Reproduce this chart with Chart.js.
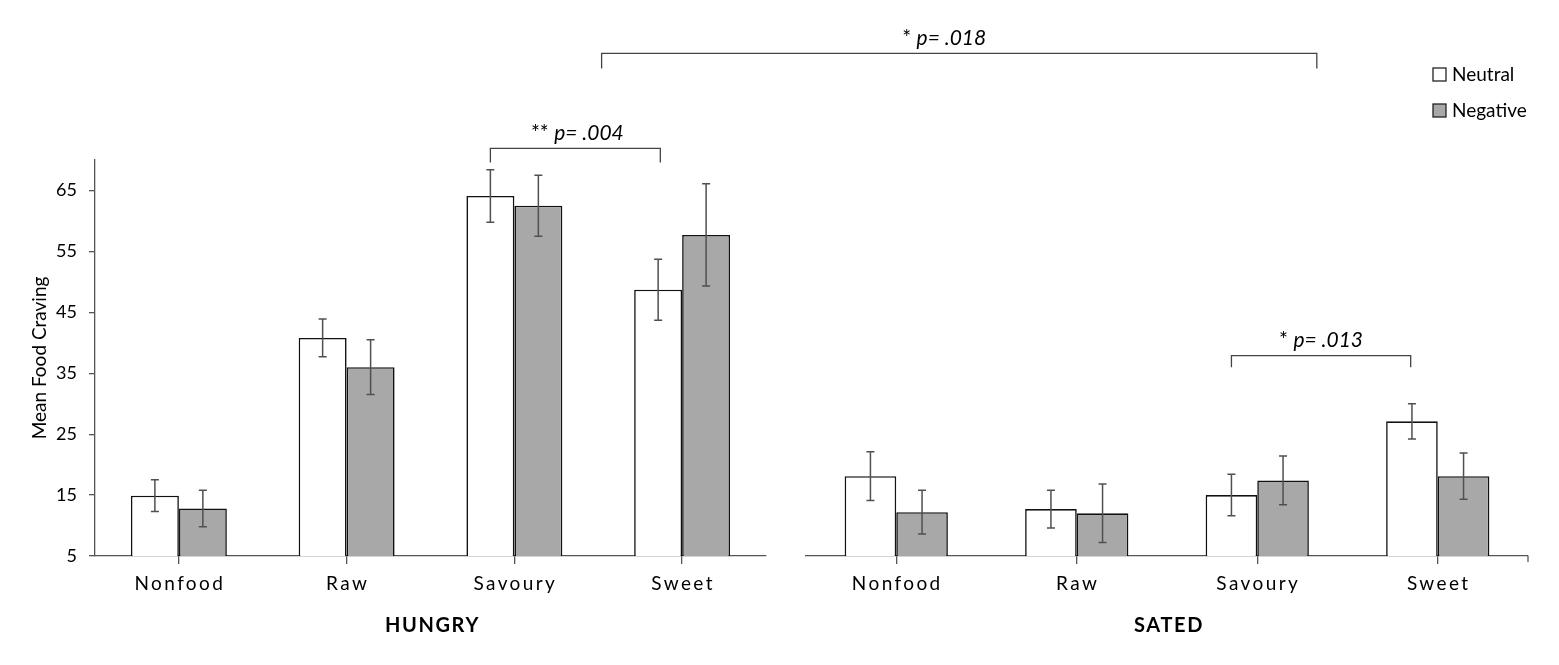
<!DOCTYPE html>
<html><head><meta charset="utf-8">
<script src="https://cdn.jsdelivr.net/npm/chart.js@4.4.0/dist/chart.umd.min.js"></script>
<style>
html,body{margin:0;padding:0;background:#fff;}
#wrap{position:relative;width:1559px;height:665px;}
canvas{position:absolute;left:0;top:0;}
</style></head><body>
<div id="wrap"><canvas id="c1" width="1559" height="665"></canvas><canvas id="c2" width="1559" height="665"></canvas></div>
<script>
// ---------- data ----------
const categories = ['Nonfood', 'Raw', 'Savoury', 'Sweet'];
const seriesNames = ['Neutral', 'Negative'];
const panelTitles = ['HUNGRY', 'SATED'];
const yTicks = [5, 15, 25, 35, 45, 55, 65];
const hungryNeutral = [14.9, 40.8, 64.1, 48.7];
const hungryNegative = [12.8, 36.0, 62.5, 57.7];
const hungryNeutralErr = [2.6, 3.1, 4.3, 5.0];
const hungryNegativeErr = [3.0, 4.5, 5.0, 8.4];
const satedNeutral = [18.1, 12.7, 15.0, 27.1];
const satedNegative = [12.2, 12.0, 17.4, 18.1];
const satedNeutralErr = [4.0, 3.1, 3.4, 2.9];
const satedNegativeErr = [3.6, 4.8, 4.0, 3.8];
const hungryNote = { text: [['** ', false], ['p= .004', true]] };
const satedNote = { text: [['* ', false], ['p= .013', true]] };
const acrossNote = { text: [['* ', false], ['p= .018', true]] };

// ---------- styling ----------
const FONT = 'Lato';
const NEUTRAL_FILL = '#ffffff';
const NEGATIVE_FILL = '#a8a8a8';
const AXIS = '#555555';
const ERR = '#505050';

// bracket placement (fractional category positions / value-axis positions)
const hungryBracket = { from: 1.857, to: 2.87, y: 71.9, drop: 69.6, labelY: 74.4 };
const satedBracket = { from: 1.857, to: 2.85, y: 37.9, drop: 36.0, labelY: 40.4 };
const acrossBracket = { from: 2.52, to: 2.33, y: 87.5, drop: 85.0, labelY: 90.0 };

function drawMixed(ctx, parts, cx, cy, size) {
  const widths = parts.map(p => { ctx.font = (p[1] ? 'italic ' : '') + size + 'px ' + FONT; return ctx.measureText(p[0]).width; });
  const total = widths.reduce((a, b) => a + b, 0);
  let x = cx - total / 2;
  ctx.textAlign = 'left'; ctx.textBaseline = 'middle'; ctx.fillStyle = '#000';
  parts.forEach((p, i) => { ctx.font = (p[1] ? 'italic ' : '') + size + 'px ' + FONT; ctx.fillText(p[0], x, cy); x += widths[i]; });
}

function drawBracket(ctx, x1, x2, y, yd1, yd2) {
  ctx.save();
  ctx.strokeStyle = '#444'; ctx.lineWidth = 1.3;
  ctx.beginPath();
  ctx.moveTo(x1, yd1); ctx.lineTo(x1, y); ctx.lineTo(x2, y); ctx.lineTo(x2, yd2);
  ctx.stroke();
  ctx.restore();
}

function makePlugin(errs, title, extra) {
  return {
    id: 'decor',
    afterDatasetsDraw(chart) {
      const ctx = chart.ctx, ys = chart.scales.y;
      ctx.save();
      ctx.strokeStyle = ERR; ctx.lineWidth = 1.5;
      chart.data.datasets.forEach((ds, i) => {
        const meta = chart.getDatasetMeta(i);
        meta.data.forEach((el, j) => {
          const v = ds.data[j], e = errs[i][j];
          const yt = ys.getPixelForValue(v + e), yb = ys.getPixelForValue(v - e);
          ctx.beginPath();
          ctx.moveTo(el.x, yt); ctx.lineTo(el.x, yb);
          ctx.moveTo(el.x - 4, yt); ctx.lineTo(el.x + 4, yt);
          ctx.moveTo(el.x - 4, yb); ctx.lineTo(el.x + 4, yb);
          ctx.stroke();
        });
      });
      ctx.restore();
    },
    afterDraw(chart) {
      const ctx = chart.ctx, xs = chart.scales.x, area = chart.chartArea;
      ctx.save();
      ctx.fillStyle = '#000';
      ctx.textAlign = 'center'; ctx.textBaseline = 'middle';
      ctx.font = '19px ' + FONT;
      ctx.letterSpacing = '2.4px';
      categories.forEach((c, i) => ctx.fillText(c, xs.getPixelForTick(i) + 1, area.bottom + 28));
      ctx.font = 'bold 20px ' + FONT;
      ctx.letterSpacing = '1.6px';
      ctx.fillText(title, (area.left + area.right) / 2 + 2, area.bottom + 70);
      ctx.letterSpacing = '0px';
      ctx.restore();
      extra(chart);
    }
  };
}

function makeConfig(neutral, negative, padLeft, padRight, showY, plugin) {
  return {
    type: 'bar',
    data: {
      labels: categories,
      datasets: [
        { label: seriesNames[0], data: neutral, backgroundColor: NEUTRAL_FILL, borderColor: '#111', borderWidth: 1.6 },
        { label: seriesNames[1], data: negative, backgroundColor: NEGATIVE_FILL, borderColor: '#111', borderWidth: 1.6 }
      ]
    },
    options: {
      responsive: false,
      animation: false,
      events: [],
      layout: { padding: { left: padLeft, right: padRight, top: 160, bottom: 0 } },
      datasets: { bar: { categoryPercentage: 0.572, barPercentage: 1.0 } },
      plugins: { legend: { display: false }, tooltip: { enabled: false } },
      scales: {
        x: {
          grid: { display: true, drawOnChartArea: false, drawTicks: true, tickLength: 8, color: AXIS, offset: false, lineWidth: 1.3 },
          border: { display: true, color: AXIS, width: 1.3 },
          ticks: { color: 'rgba(0,0,0,0)', font: { family: FONT, size: 19 }, autoSkip: false, maxRotation: 0 },
          afterFit(s) { s.height = 109; }
        },
        y: {
          display: showY,
          min: 5, max: 70,
          afterBuildTicks(s) { s.ticks = yTicks.map(v => ({ value: v })); },
          grid: { drawOnChartArea: false, drawTicks: true, tickLength: 6, color: AXIS, lineWidth: 1.3 },
          border: { display: true, color: AXIS, width: 1.3 },
          ticks: { color: '#000', font: { family: FONT, size: 18 }, padding: 12 },
          title: { display: true, text: 'Mean Food Craving', color: '#000', font: { family: FONT, size: 19 }, padding: { top: 8, bottom: 0 } },
          afterFit(s) { if (showY) s.width = 75; }
        }
      }
    },
    plugins: [plugin]
  };
}

function build() {
  const chart1 = new Chart(document.getElementById('c1'), makeConfig(
    hungryNeutral, hungryNegative, 20, 1559 - 766, true,
    makePlugin([hungryNeutralErr, hungryNegativeErr], panelTitles[0], (chart) => {
      const ctx = chart.ctx, xs = chart.scales.x, ys = chart.scales.y;
      const b = hungryBracket;
      drawBracket(ctx, xs.getPixelForValue(b.from), xs.getPixelForValue(b.to), ys.getPixelForValue(b.y), ys.getPixelForValue(b.drop), ys.getPixelForValue(b.drop));
      drawMixed(ctx, hungryNote.text, (xs.getPixelForValue(b.from) + xs.getPixelForValue(b.to)) / 2 + 2, ys.getPixelForValue(b.labelY), 21);
    })
  ));

  new Chart(document.getElementById('c2'), makeConfig(
    satedNeutral, satedNegative, 806, 1559 - 1528, false,
    makePlugin([satedNeutralErr, satedNegativeErr], panelTitles[1], (chart) => {
      const ctx = chart.ctx, xs = chart.scales.x, ys = chart.scales.y, area = chart.chartArea;
      // right end tick
      ctx.save(); ctx.strokeStyle = AXIS; ctx.lineWidth = 1.3;
      ctx.beginPath(); ctx.moveTo(area.right, area.bottom); ctx.lineTo(area.right, area.bottom + 6); ctx.stroke(); ctx.restore();
      // sated bracket
      const b = satedBracket;
      drawBracket(ctx, xs.getPixelForValue(b.from), xs.getPixelForValue(b.to), ys.getPixelForValue(b.y), ys.getPixelForValue(b.drop), ys.getPixelForValue(b.drop));
      drawMixed(ctx, satedNote.text, (xs.getPixelForValue(b.from) + xs.getPixelForValue(b.to)) / 2, ys.getPixelForValue(b.labelY), 21);
      // bracket across panels
      const a = acrossBracket;
      const x1 = chart1.scales.x.getPixelForValue(a.from), x2 = xs.getPixelForValue(a.to);
      drawBracket(ctx, x1, x2, ys.getPixelForValue(a.y), ys.getPixelForValue(a.drop), ys.getPixelForValue(a.drop));
      drawMixed(ctx, acrossNote.text, (x1 + x2) / 2 - 15, ys.getPixelForValue(a.labelY), 21);
      // legend
      const fills = [NEUTRAL_FILL, NEGATIVE_FILL];
      ctx.save();
      seriesNames.forEach((n, i) => {
        const bx = area.right - 95, by = 68 + i * 36;
        ctx.fillStyle = fills[i]; ctx.fillRect(bx, by, 13, 13);
        ctx.strokeStyle = '#222'; ctx.lineWidth = 1.3; ctx.strokeRect(bx, by, 13, 13);
        ctx.fillStyle = '#000'; ctx.font = '19px ' + FONT; ctx.textAlign = 'left'; ctx.textBaseline = 'middle';
        ctx.fillText(n, bx + 19, by + 7);
      });
      ctx.restore();
    })
  ));
}

Promise.all([
  document.fonts.load('19px Lato'), document.fonts.load('italic 19px Lato'), document.fonts.load('bold 20px Lato')
]).catch(() => {}).then(build);
</script>
</body></html>
